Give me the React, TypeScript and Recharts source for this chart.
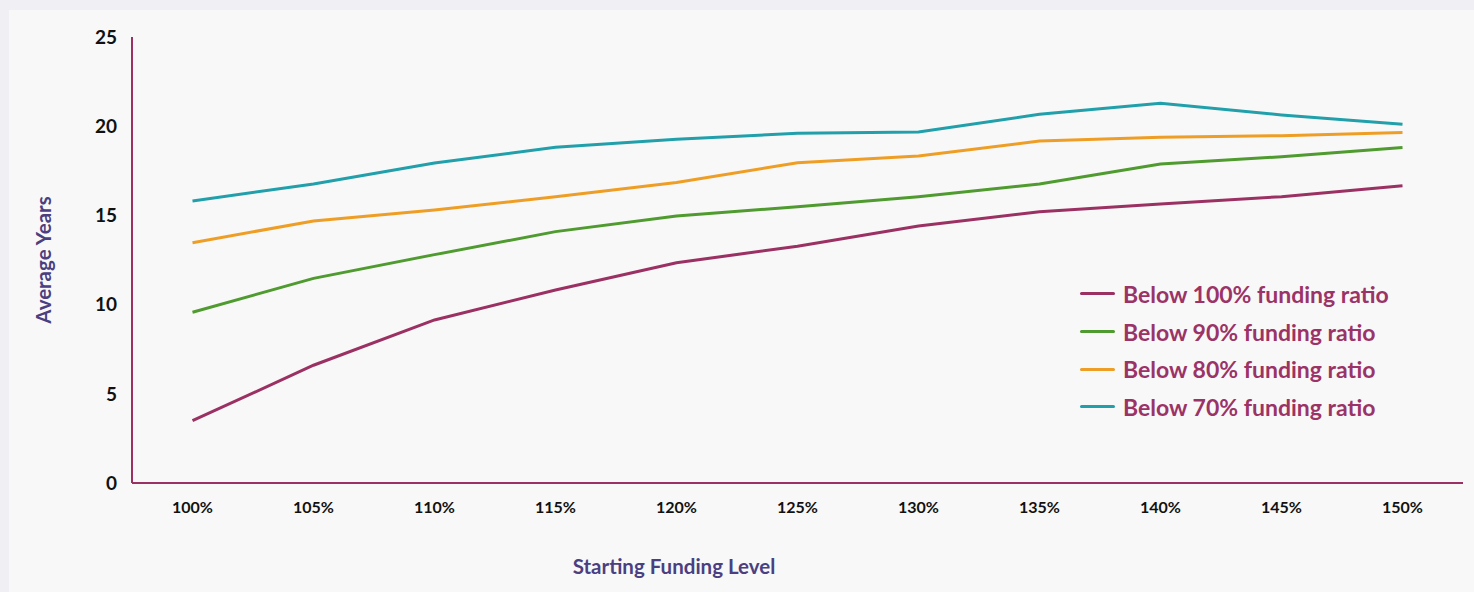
import { CartesianGrid, Legend, Line, LineChart, XAxis, YAxis } from 'recharts';

const levels = ['100%', '105%', '110%', '115%', '120%', '125%', '130%', '135%', '140%', '145%', '150%'];
const below100 = [3.49, 6.6, 9.14, 10.82, 12.35, 13.27, 14.41, 15.21, 15.64, 16.05, 16.66];
const below90 = [9.57, 11.47, 12.8, 14.09, 14.97, 15.49, 16.05, 16.76, 17.88, 18.29, 18.8];
const below80 = [13.47, 14.69, 15.3, 16.05, 16.85, 17.95, 18.33, 19.17, 19.38, 19.47, 19.64];
const below70 = [15.81, 16.76, 17.94, 18.82, 19.27, 19.6, 19.67, 20.67, 21.28, 20.63, 20.11];
const yTicks = [0, 5, 10, 15, 20, 25];

const series = [
  { key: 'b100', name: 'Below 100% funding ratio', color: '#9b3163' },
  { key: 'b90', name: 'Below 90% funding ratio', color: '#4f9b2f' },
  { key: 'b80', name: 'Below 80% funding ratio', color: '#ee9e25' },
  { key: 'b70', name: 'Below 70% funding ratio', color: '#21a0ab' },
];

const data = levels.map((level, i) => ({
  level,
  b100: below100[i],
  b90: below90[i],
  b80: below80[i],
  b70: below70[i],
}));

const font = 'Lato, "Open Sans", sans-serif';
const axisColor = '#9b3163';
const titleColor = '#4b3f80';

const renderLegend = () => (
  <div style={{ fontFamily: font }}>
    {series.map((s) => (
      <div key={s.key} style={{ display: 'flex', alignItems: 'center', height: 37.7 }}>
        <div style={{ width: 35, height: 3, background: s.color, borderRadius: 2, marginRight: 8 }} />
        <span style={{ color: '#9b3366', fontWeight: 700, fontSize: 23 }}>{s.name}</span>
      </div>
    ))}
  </div>
);

export default function App() {
  return (
    <div style={{ position: 'absolute', left: 0, top: 0, width: 1474, height: 592, background: '#efeff4', overflow: 'hidden' }}>
      <div style={{ position: 'absolute', left: 9, top: 10, width: 1465, height: 582, background: '#f8f8f8' }}>
        <LineChart width={1465} height={582} data={data} margin={{ top: 27, right: 11, bottom: 69, left: 63 }}>
          <CartesianGrid stroke="none" />
          <XAxis
            dataKey="level"
            height={40}
            padding={{ left: 60.5, right: 60.5 }}
            stroke={axisColor}
            strokeWidth={2}
            tickLine={false}
            tickSize={0}
            tickMargin={19}
            tick={{ fontSize: 16, fontWeight: 700, fill: '#111', fontFamily: font }}
          />
          <YAxis
            domain={[0, 25]}
            ticks={yTicks}
            width={60}
            stroke={axisColor}
            strokeWidth={2}
            tickLine={false}
            tickSize={0}
            tickMargin={15}
            tick={{ fontSize: 19, fontWeight: 700, fill: '#111', fontFamily: font }}
          />
          <Legend
            layout="horizontal"
            verticalAlign="middle"
            align="center"
            content={renderLegend}
            wrapperStyle={{ left: 1071, top: 265, width: 380 }}
          />
          {series.map((s) => (
            <Line
              key={s.key}
              type="linear"
              dataKey={s.key}
              name={s.name}
              stroke={s.color}
              strokeWidth={3}
              dot={false}
              activeDot={false}
              isAnimationActive={false}
            />
          ))}
        </LineChart>
        <div
          style={{
            position: 'absolute',
            left: 674 - 9 - 150,
            top: 567 - 10 - 13,
            width: 300,
            textAlign: 'center',
            fontFamily: font,
            fontWeight: 700,
            fontSize: 20.5,
            color: titleColor,
          }}
        >
          Starting Funding Level
        </div>
        <div
          style={{
            position: 'absolute',
            left: 43 - 9 - 100,
            top: 260 - 10 - 13,
            width: 200,
            height: 26,
            lineHeight: '26px',
            textAlign: 'center',
            transform: 'rotate(-90deg)',
            fontFamily: font,
            fontWeight: 700,
            fontSize: 20.5,
            color: titleColor,
          }}
        >
          Average Years
        </div>
      </div>
    </div>
  );
}
